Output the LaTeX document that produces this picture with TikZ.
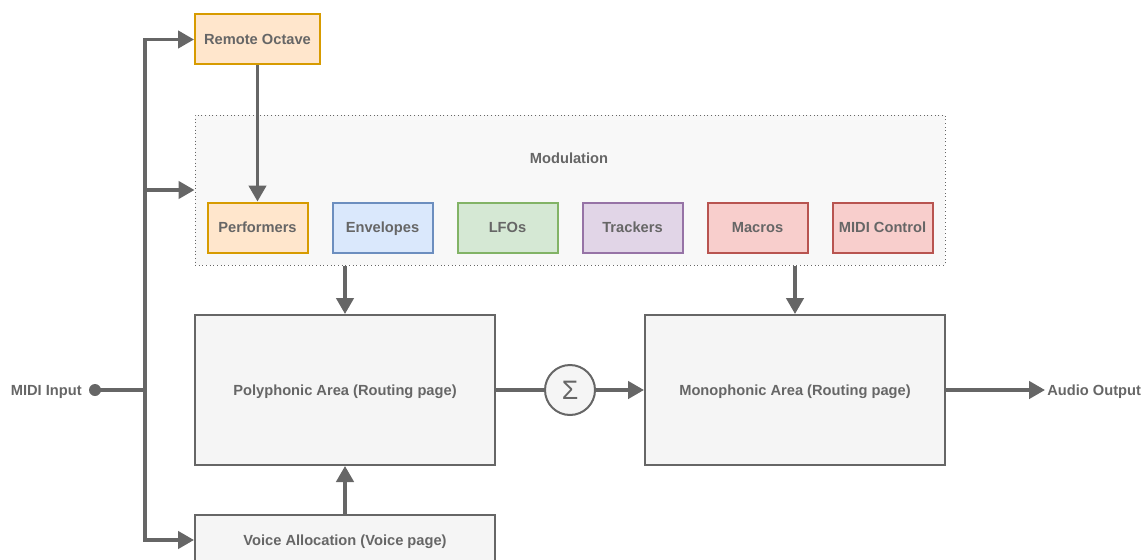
\documentclass[tikz,border=0pt]{standalone}
\usepackage{fontspec}
\setmainfont{Liberation Sans}
\usetikzlibrary{arrows.meta}

\definecolor{lineGray}{HTML}{666666}
\definecolor{boxFill}{HTML}{F5F5F5}
\definecolor{modFill}{HTML}{F8F8F8}
\definecolor{orangeFill}{HTML}{FFE6CC}
\definecolor{orangeLine}{HTML}{D79B00}
\definecolor{blueFill}{HTML}{DAE8FC}
\definecolor{blueLine}{HTML}{6C8EBF}
\definecolor{greenFill}{HTML}{D5E8D4}
\definecolor{greenLine}{HTML}{82B366}
\definecolor{purpleFill}{HTML}{E1D5E7}
\definecolor{purpleLine}{HTML}{9673A6}
\definecolor{redFill}{HTML}{F8CECC}
\definecolor{redLine}{HTML}{B85450}

\tikzset{
  lbl/.style={font=\fontsize{11}{13}\selectfont\bfseries, text=lineGray, text height=8pt, text depth=0pt},
  area/.style={lbl, draw=lineGray, fill=boxFill, line width=1.5pt, inner sep=0pt},
  modbox/.style={lbl, line width=1.5pt, inner sep=0pt, minimum width=75pt, minimum height=37.5pt},
  conn/.style={draw=lineGray, line width=2.6pt},
  arr/.style={conn, -{Triangle[length=12pt,width=13pt]}},
}

\begin{document}
\begin{tikzpicture}[x=0.75pt,y=0.75pt,yscale=-1,xscale=1]
\useasboundingbox (0,0) rectangle (1145,560);
\clip (0,0) rectangle (1145,560);

%Container: Modulation
\node [draw=lineGray, dotted, line width=0.75pt, fill=modFill, minimum width=562.5pt, minimum height=112.5pt, inner sep=0pt] (mod) at (570,190) {};
% Text Node
\node [lbl] (modlbl) at (569,158) {Modulation};

%Flowchart: Process
\node [modbox, draw=orangeLine, fill=orangeFill, minimum width=93.75pt] (remote) at (257.5,39.5) {Remote Octave};
%Flowchart: Process
\node [modbox, draw=orangeLine, fill=orangeFill] (perf) at (257.5,227.5) {Performers};
%Flowchart: Process
\node [modbox, draw=blueLine, fill=blueFill] (env) at (382.5,227.5) {Envelopes};
%Flowchart: Process
\node [modbox, draw=greenLine, fill=greenFill] (lfo) at (507.5,227.5) {LFOs};
%Flowchart: Process
\node [modbox, draw=purpleLine, fill=purpleFill] (track) at (632.5,227.5) {Trackers};
%Flowchart: Process
\node [modbox, draw=redLine, fill=redFill] (macro) at (757.5,227.5) {Macros};
%Flowchart: Process
\node [modbox, draw=redLine, fill=redFill] (midictl) at (882.5,227.5) {MIDI Control};

%Flowchart: Process
\node [area, minimum width=225pt, minimum height=112.5pt] (poly) at (345,390) {Polyphonic Area (Routing page)};
%Flowchart: Process
\node [area, minimum width=225pt, minimum height=112.5pt] (mono) at (795,390) {Monophonic Area (Routing page)};
%Flowchart: Process
\node [area, minimum width=225pt, minimum height=37.5pt] (voice) at (345,540) {Voice Allocation (Voice page)};
%Flowchart: Summing Junction
\node [circle, draw=lineGray, fill=boxFill, line width=1.5pt, minimum size=37.5pt, inner sep=0pt, text=lineGray, font=\fontsize{20}{20}\selectfont] (sum) at (570,390) {Σ};

% Text Node
\node [lbl, anchor=east, inner sep=0pt] (midiin) at (82,390) {MIDI Input};
% Text Node
\node [lbl, anchor=west, inner sep=1.5pt] (audio) at (1045,390) {Audio Output};
\coordinate (dot) at (95,390);
\coordinate (bus) at (145,390);

%Straight Lines
\fill [lineGray] (dot) circle [radius=4.5pt];
\draw [conn] (dot) -- (bus);
\draw [arr] (bus) |- (remote.west);
\draw [arr] (bus) |- (mod.west);
\draw [arr] (bus) |- (voice.west);
\draw [arr] (remote.south) -- (perf.north);
\draw [arr] (mod.south -| poly.north) -- (poly.north);
\draw [arr] (mod.south -| mono.north) -- (mono.north);
\draw [arr] (voice.north) -- (poly.south);
\draw [conn] (poly.east) -- (sum.west);
\draw [arr] (sum.east) -- (mono.west);
\draw [arr] (mono.east) -- (1045,390);

\end{tikzpicture}
\end{document}
